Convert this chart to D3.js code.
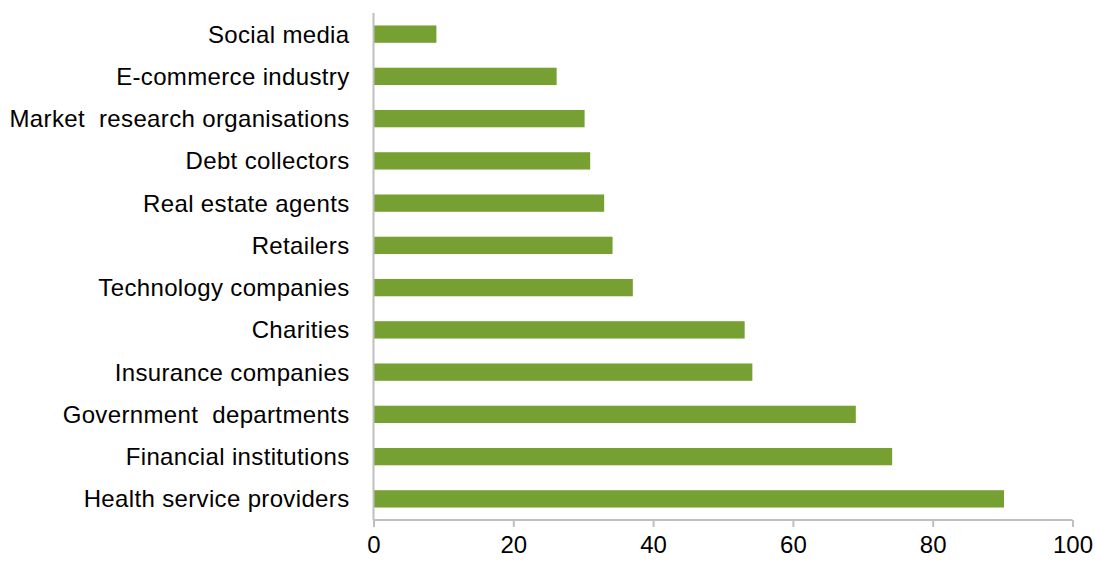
<!DOCTYPE html>
<html><head><meta charset="utf-8">
<script src="https://cdn.jsdelivr.net/npm/d3@7"></script>
<style>body{margin:0;background:#fff}svg{display:block}</style>
</head><body>
<svg id="chart" width="1095" height="561"></svg>
<script>
const categories = ["Social media","E-commerce industry","Market  research organisations","Debt collectors","Real estate agents","Retailers","Technology companies","Charities","Insurance companies","Government  departments","Financial institutions","Health service providers"];
const values = [9.0, 26.2, 30.2, 31.0, 33.0, 34.2, 37.1, 53.1, 54.2, 69.0, 74.2, 90.2];
const tickValues = [0, 20, 40, 60, 80, 100];

const svg = d3.select("#chart");
const margin = {left: 373.5, right: 22.5, top: 13, bottom: 41};
const W = 1095, H = 561;
const x = d3.scaleLinear().domain([0, 100]).range([margin.left, W - margin.right]);
const y = d3.scaleBand().domain(categories).range([margin.top, H - margin.bottom]).paddingInner(0.59).paddingOuter(0.295);

svg.selectAll("rect.bar").data(values).join("rect")
  .attr("class","bar")
  .attr("x", x(0))
  .attr("y", (d,i) => y(categories[i]))
  .attr("width", d => x(d) - x(0))
  .attr("height", y.bandwidth())
  .attr("fill", "#77A033");

const font = "Liberation Sans, Arial, sans-serif";

// y axis
const yAxis = svg.append("g").attr("transform", `translate(${x(0)},0)`)
  .call(d3.axisLeft(y).tickSize(0).tickPadding(24));
yAxis.select(".domain").attr("stroke", "#BFBFBF").attr("stroke-width", 2).attr("d", `M0,${margin.top}V${H - margin.bottom}`);
yAxis.selectAll("text").attr("font-family", font).attr("font-size", 24).attr("letter-spacing", 0.35).attr("fill", "#000").attr("dy", "0.35em").style("white-space","pre");

// x axis
const xAxis = svg.append("g").attr("transform", `translate(0,${H - margin.bottom})`)
  .call(d3.axisBottom(x).tickValues(tickValues).tickSize(7).tickPadding(9).tickFormat(d3.format("d")));
xAxis.select(".domain").attr("stroke", "#BFBFBF").attr("stroke-width", 2).attr("d", `M${x(0)},0H${x(100)}`);
xAxis.selectAll(".tick line").attr("stroke", "#BFBFBF").attr("stroke-width", 2);
xAxis.selectAll("text").attr("font-family", font).attr("font-size", 24).attr("fill", "#000");
</script>
</body></html>
